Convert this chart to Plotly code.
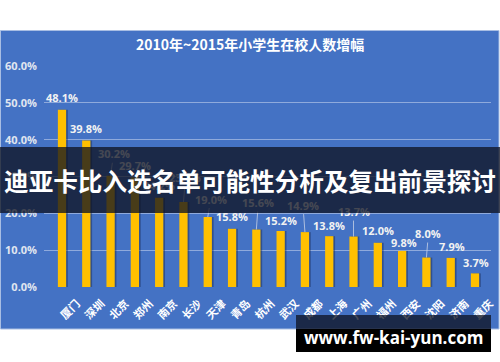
import plotly.graph_objects as go

# ---------------- data ----------------
cities = ["厦门", "深圳", "北京", "郑州", "南京", "长沙", "天津", "青岛", "杭州",
          "武汉", "成都", "上海", "广州", "福州", "西安", "沈阳", "济南", "重庆"]
growth = [48.1, 39.8, 30.2, 29.7, 24.2, 23.1, 19.0, 15.8, 15.6,
          15.2, 14.9, 13.8, 13.7, 12.0, 9.8, 8.0, 7.9, 3.7]
y_ticks = [0, 10, 20, 30, 40, 50, 60]
y_tick_labels = ["0.0%", "10.0%", "20.0%", "30.0%", "40.0%", "50.0%", "60.0%"]

title_text = "2010年~2015年小学生在校人数增幅"
banner_text = "迪亚卡比入选名单可能性分析及复出前景探讨"
watermark_text = "www.fw-kai-yun.com"

# label offsets (pixels) relative to the bar top, and whether a leader line is drawn
label_dx = [0, 0, 3, 0, 0, 2, 3, 0, 2, 0, -2, 0, 0, 0, 2, 2, 1, 1]
label_dy = [-12, -12, -22, -12, -12, -24, -18, -12, -27, -11, -27, -11, -25, -12, -8, -24, -11, -11]
leader = [False, False, True, False, False, True, True, False, True,
          False, True, False, True, False, False, True, False, False]

# ---------------- layout geometry ----------------
W, H = 500, 362
ML, MR, MT, MB = 44, 9, 66, 75
PW, PH = W - ML - MR, H - MT - MB


def px(x):
    return (x - ML) / PW


def py(y):
    return (H - MB - y) / PH


BLUE = "#4472C4"
GRID = "#8FAADC"
YELLOW = "#FFC000"
LABEL_FONT = dict(family="Open Sans, Lato, sans-serif", size=11, color="#F2F2F2", weight="bold")

fig = go.Figure()

# shadow behind bars
fig.add_trace(go.Bar(
    x=cities, y=growth, width=0.34, offset=-0.10,
    marker=dict(color="rgba(25,40,80,0.45)", line=dict(width=0)),
    hoverinfo="skip", showlegend=False,
))
fig.add_trace(go.Bar(
    x=cities, y=growth, width=0.34, offset=-0.17,
    marker=dict(color=YELLOW, line=dict(width=0)),
    hoverinfo="skip", showlegend=False,
))

annotations = []
for c, v, dx, dy, ld in zip(cities, growth, label_dx, label_dy, leader):
    annotations.append(dict(
        x=c, y=v, xref="x", yref="y", text=f"{v:.1f}%",
        showarrow=True, ax=dx, ay=dy, arrowhead=0, arrowwidth=1,
        arrowcolor="rgba(200,210,230,0.8)" if ld else "rgba(0,0,0,0)",
        standoff=0, font=LABEL_FONT,
    ))

# title
annotations.append(dict(
    x=px(250), y=py(44), xref="paper", yref="paper", showarrow=False,
    text=title_text, xanchor="center", yanchor="middle",
    font=dict(family="Noto Sans CJK SC", size=14, color="white", weight="bold"),
))

# banner overlay (drawn above labels)
annotations.append(dict(
    x=px(250), y=py(180), xref="paper", yref="paper", showarrow=False,
    text=banner_text, xanchor="center", yanchor="middle",
    width=500, height=66, borderpad=0, borderwidth=0,
    bgcolor="rgba(15,18,33,0.76)",
    font=dict(family="Noto Sans CJK SC", size=24.6, color="white", weight="bold"),
))

# watermark text
annotations.append(dict(
    x=px(393), y=py(337), xref="paper", yref="paper", showarrow=False,
    text=watermark_text, xanchor="center", yanchor="middle",
    font=dict(family="Open Sans", size=17, color="white", weight="bold"),
))

shapes = [
    # chart background box
    dict(type="rect", xref="paper", yref="paper", layer="below",
         x0=px(0.5), x1=px(499), y0=py(329), y1=py(30.5),
         fillcolor=BLUE, line=dict(color="#A9BEE3", width=1)),
    # watermark box
    dict(type="rect", xref="paper", yref="paper", layer="above",
         x0=px(296), x1=px(491), y0=py(329), y1=py(315),
         fillcolor="rgba(15,18,33,0.76)", line=dict(width=0)),
    dict(type="rect", xref="paper", yref="paper", layer="above",
         x0=px(296), x1=px(491), y0=py(352), y1=py(329),
         fillcolor="black", line=dict(width=0)),
]

fig.update_layout(
    width=W, height=H,
    margin=dict(l=ML, r=MR, t=MT, b=MB, pad=0, autoexpand=False),
    paper_bgcolor="white", plot_bgcolor="rgba(0,0,0,0)",
    barmode="overlay", showlegend=False, hovermode=False,
    annotations=annotations, shapes=shapes,
    xaxis=dict(
        type="category", tickangle=-45, showgrid=False, zeroline=False,
        showline=False, ticks="", automargin=False,
        ticklabelstandoff=7, ticklabelshift=15,
        tickfont=dict(family="Noto Sans CJK SC", size=11, color="white", weight="bold"),
    ),
    yaxis=dict(
        range=[0, 60], tickmode="array", tickvals=y_ticks, ticktext=y_tick_labels,
        showgrid=True, gridcolor=GRID, gridwidth=1, zeroline=False,
        showline=False, ticks="", ticklabelstandoff=6, automargin=False,
        tickfont=dict(family="Open Sans, Lato, sans-serif", size=11, color="#E0E6F0", weight="bold"),
    ),
)

fig.write_html(
    "out.html",
    config={"displayModeBar": False, "staticPlot": True},
    post_script="document.body.style.margin='0';document.body.style.overflow='hidden';",
)
